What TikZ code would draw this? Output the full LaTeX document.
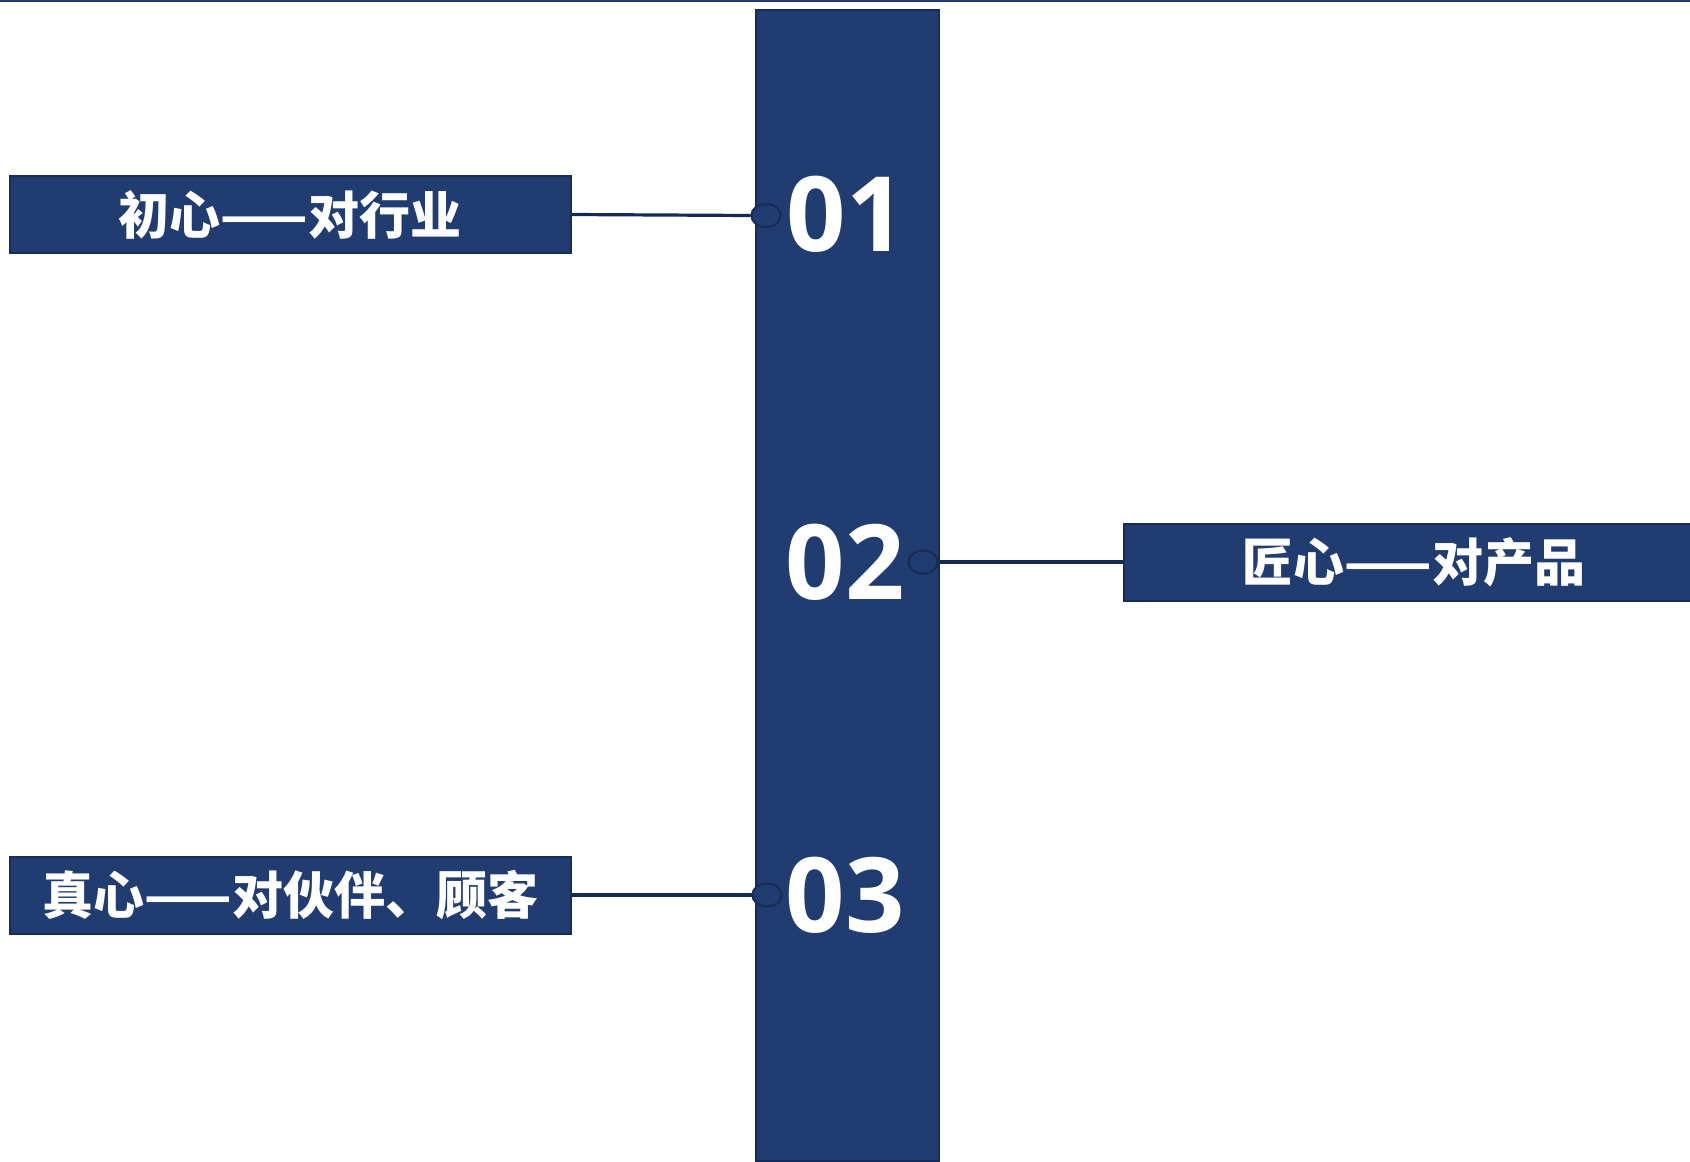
\documentclass[tikz,border=0pt]{standalone}
\usepackage{fontspec}
\usetikzlibrary{shapes.geometric}
\newfontfamily\cjk{Noto Sans CJK SC}
\newfontfamily\digitfont{Open Sans}
\definecolor{navy}{HTML}{203C71}
\definecolor{navyedge}{HTML}{172C56}
\definecolor{linkcol}{HTML}{132A52}
\tikzset{
  bandbox/.style={draw=navyedge, line width=2pt, fill=navy, inner sep=0pt},
  labelbox/.style={draw=navyedge, line width=2pt, fill=navy, inner sep=0pt, minimum height=77pt, text=white, font=\cjk\bfseries\fontsize{51}{53}\selectfont},
  numtext/.style={text=white, inner sep=0pt, font=\digitfont\bfseries\fontsize{104}{110}\selectfont},
  dot/.style={ellipse, draw=navyedge, line width=2pt, fill=navy, minimum width=29pt, minimum height=23pt, inner sep=0pt},
  link/.style={draw=linkcol, line width=3.2pt}
}
\begin{document}
\begin{tikzpicture}[x=1pt,y=-1pt]
\useasboundingbox (0,0) rectangle (1690,1162);
\fill[white] (0,0) rectangle (1690,1162);
\draw[navy, line width=2pt] (0,0.8) -- (1690,0.8);
\node[bandbox, minimum width=183pt, minimum height=1151pt] (bar) at (847.5,585.5) {};
\node[labelbox, minimum width=561pt] (b1) at (290,214.5) {初心——对行业};
\node[labelbox, minimum width=580pt] (b2) at (1414,562) {匠心——对产品};
\node[labelbox, minimum width=561pt] (b3) at (290.5,895) {真心——对伙伴、顾客};
\node[dot] (c1) at (766,215.5) {};
\node[dot] (c2) at (923,562) {};
\node[dot] (c3) at (767,895) {};
\draw[link] (b1.east) -- (c1.west);
\draw[link] (c2.east) -- (b2.west);
\draw[link] (b3.east) -- (c3.west);
\node[dot] at (c1) {};
\node[dot] at (c2) {};
\node[dot] at (c3) {};
\node[numtext] (n1) at (846,214.5) {01};
\node[numtext] (n2) at (845,562) {02};
\node[numtext] (n3) at (845,895) {03};
\end{tikzpicture}
\end{document}
